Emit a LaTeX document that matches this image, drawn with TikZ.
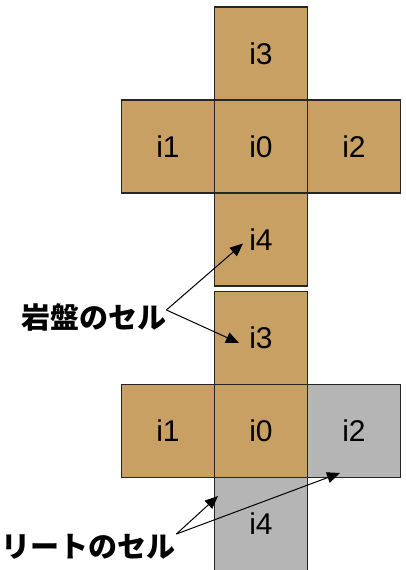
\documentclass[tikz,border=0pt]{standalone}
\usepackage{fontspec}
\setmainfont{Liberation Sans}
\newfontfamily\jp{Noto Sans CJK JP}
\usetikzlibrary{arrows.meta,calc}
\definecolor{rock}{RGB}{201,160,100}
\definecolor{leak}{RGB}{180,181,180}
\tikzset{
  cell/.style={draw=black!85,line width=1.3pt,minimum size=93pt,inner sep=0pt,font=\fontsize{30}{30}\selectfont,anchor=center},
  rockcell/.style={cell,fill=rock},
  leakcell/.style={cell,fill=leak},
  lbl/.style={font=\jp\bfseries\fontsize{29}{29}\selectfont,inner sep=0pt},
  arr/.style={line width=1pt,-{Triangle[length=13pt,width=11pt]}}
}
\begin{document}
\begin{tikzpicture}[x=1pt,y=-1pt]
\useasboundingbox (0,0) rectangle (406,570);
% upper figure
\node[rockcell] (t3) at (261,53.5) {i3};
\node[rockcell] (t1) at (168,146.5) {i1};
\node[rockcell] (t0) at (261,146.5) {i0};
\node[rockcell] (t2) at (354,146.5) {i2};
\node[rockcell] (t4) at (261,239.5) {i4};
% lower figure
\node[rockcell] (b3) at (261,338) {i3};
\node[rockcell] (b1) at (168,431) {i1};
\node[rockcell] (b0) at (261,431) {i0};
\node[leakcell] (b2) at (354,431) {i2};
\node[leakcell] (b4) at (261,524) {i4};
% labels
\node[lbl,anchor=west] (rock) at (21,318) {岩盤のセル};
\node[lbl,anchor=west] (leak) at (1,547) {リートのセル};
\coordinate (rs) at ($(rock.east)+(0,-8)$);
\coordinate (ls) at ($(leak.east)+(1,-13)$);
\coordinate (t4tip) at ($(t4.center)+(-18,4)$);
\coordinate (b3tip) at ($(b3.center)+(-22,5)$);
\coordinate (b4tip) at ($(b4.center)+(-43,-28)$);
\coordinate (b2tip) at ($(b2.center)+(-14,42)$);
\draw[arr] (rs) -- (t4tip);
\draw[arr] (rs) -- (b3tip);
\draw[arr] (ls) -- (b4tip);
\draw[arr] (ls) -- (b2tip);
\end{tikzpicture}
\end{document}
